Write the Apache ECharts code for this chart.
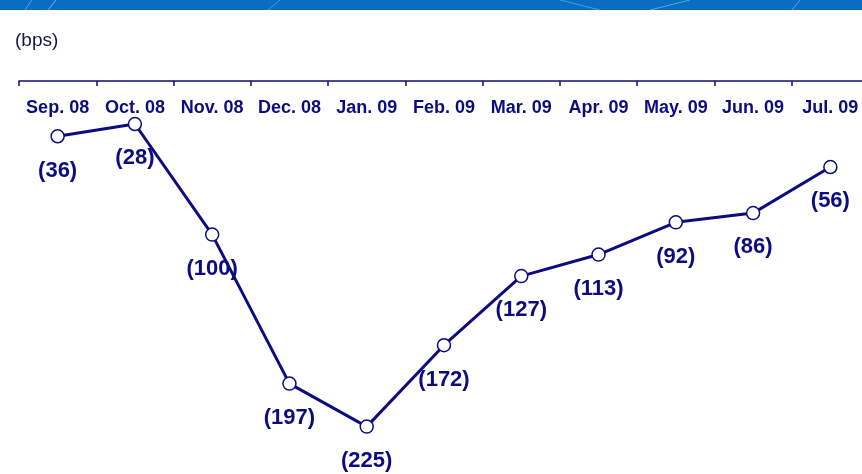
<!DOCTYPE html>
<html>
<head>
<meta charset="utf-8">
<script src="https://cdn.jsdelivr.net/npm/echarts@6/dist/echarts.min.js"></script>
<style>
  html, body { margin: 0; padding: 0; background: #fff; }
  #chart { width: 862px; height: 474px; }
</style>
</head>
<body>
<div id="chart"></div>
<script>
// months and spread change (bps, shown in brackets as negatives)
var months = ['Sep. 08', 'Oct. 08', 'Nov. 08', 'Dec. 08', 'Jan. 09', 'Feb. 09',
              'Mar. 09', 'Apr. 09', 'May. 09', 'Jun. 09', 'Jul. 09'];
var spread = [-36, -28, -100, -197, -225, -172, -127, -113, -92, -86, -56];

var navy = '#0c0c80';
var font = 'Liberation Sans, Arial, sans-serif';

var myChart = echarts.init(document.getElementById('chart'));
myChart.setOption({
    animation: false,
    backgroundColor: '#fff',
    grid: {
        left: 19,
        top: 81,
        width: 850,
        height: 384,
        outerBoundsMode: 'none',
        containLabel: false
    },
    graphic: [
        // blue banner at the top
        {
            type: 'rect',
            shape: {x: 0, y: 0, width: 862, height: 10},
            style: {fill: '#0a6dbf'},
            z: 0
        },
        {
            type: 'polyline',
            shape: {points: [[25, 10], [32, 0]]},
            style: {stroke: '#5aa6e0', lineWidth: 1, fill: null}
        },
        {
            type: 'polyline',
            shape: {points: [[48, 10], [56, 0]]},
            style: {stroke: '#6fb5e6', lineWidth: 1, fill: null}
        },
        {
            type: 'polyline',
            shape: {points: [[268, 10], [280, 0]]},
            style: {stroke: '#4c9bd8', lineWidth: 1, fill: null}
        },
        {
            type: 'polyline',
            shape: {points: [[560, 0], [600, 10]]},
            style: {stroke: '#4c9bd8', lineWidth: 1, fill: null}
        },
        {
            type: 'polyline',
            shape: {points: [[650, 10], [690, 0]]},
            style: {stroke: '#5aa6e0', lineWidth: 1, fill: null}
        },
        {
            type: 'polyline',
            shape: {points: [[792, 10], [800, 0]]},
            style: {stroke: '#5aa6e0', lineWidth: 1, fill: null}
        },
        {
            type: 'text',
            left: 15,
            top: 31,
            style: {
                text: '(bps)',
                fill: '#16164f',
                font: '19px ' + font
            }
        }
    ],
    xAxis: {
        type: 'category',
        position: 'top',
        data: months,
        axisLine: {lineStyle: {color: navy, width: 1.5}},
        axisTick: {
            show: true,
            inside: true,
            length: 5,
            interval: 0,
            lineStyle: {color: navy, width: 1.5}
        },
        axisLabel: {
            inside: true,
            interval: 0,
            margin: 18,
            color: navy,
            fontWeight: 'bold',
            fontSize: 18,
            fontFamily: font
        },
        splitLine: {show: false}
    },
    yAxis: {
        type: 'value',
        min: -250,
        max: 0,
        show: false
    },
    series: [{
        type: 'line',
        data: spread,
        symbol: 'circle',
        symbolSize: 13,
        lineStyle: {color: navy, width: 3},
        itemStyle: {color: '#fff', borderColor: navy, borderWidth: 1.5},
        label: {
            show: true,
            position: 'bottom',
            distance: 16,
            color: navy,
            fontWeight: 'bold',
            fontSize: 22,
            fontFamily: font,
            formatter: function (p) {
                return '(' + Math.abs(p.value) + ')';
            }
        }
    }]
});
</script>
</body>
</html>
